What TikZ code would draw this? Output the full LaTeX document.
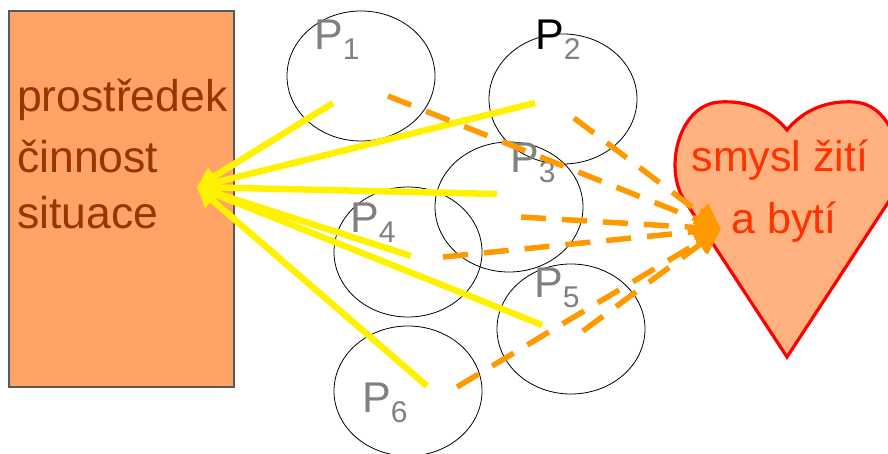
\documentclass[tikz,border=0pt]{standalone}
\usepackage{fontspec}
\setmainfont{Liberation Sans}
\usetikzlibrary{shapes.geometric,arrows.meta}
\definecolor{boxfill}{RGB}{255,163,102}
\definecolor{boxtext}{RGB}{153,51,0}
\definecolor{heartfill}{RGB}{255,178,128}
\definecolor{hearttext}{RGB}{255,51,0}
\definecolor{dashorange}{RGB}{255,153,0}
\definecolor{labgray}{RGB}{128,128,128}
\newcommand{\psub}[1]{\raisebox{-10pt}{\fontsize{30}{30}\selectfont #1}}

\begin{document}
\begin{tikzpicture}[x=1pt, y=-1pt, font=\fontsize{43}{50}\selectfont,
  part/.style={draw, ellipse, line width=0.8pt, minimum width=148pt, minimum height=130pt, inner sep=0pt},
  lab/.style={anchor=base west, inner sep=0pt, text=labgray},
  boxline/.style={anchor=base west, inner sep=0pt, text=boxtext, font=\fontsize{44.5}{50}\selectfont},
  heartline/.style={anchor=base, inner sep=0pt, text=hearttext},
  toward/.style={yellow, line width=6.5pt, -{Triangle[length=20pt,width=20pt]}},
  meaning/.style={dashorange, line width=5.5pt, dash pattern=on 25pt off 16pt, -{Triangle[length=26pt,width=24pt]}}]
  \useasboundingbox (0,0) rectangle (888,454);
  \clip (0,0) rectangle (888,454);
  % leva strana: prostredek, cinnost, situace
  \draw[fill=boxfill, draw=black!65, line width=1.3pt] (9,11) rectangle (234,387);
  \node[boxline] (t1) at (17,112) {prostředek};
  \node[boxline] (t2) at (17,173) {činnost};
  \node[boxline] (t3) at (17,229) {situace};
  % srdce vpravo
  \draw[fill=heartfill, draw=red, line width=3.2pt]
    (787,357) -- (683,198) .. controls (664,165) and (680,104) .. (720,102)
    .. controls (752,100) and (774,114) .. (787,130)
    .. controls (800,114) and (822,100) .. (854,102)
    .. controls (894,104) and (910,165) .. (891,198) -- cycle;
  \node[heartline] (h1) at (780,172) {smysl žití};
  \node[heartline] (h2) at (784,234) {a bytí};
  % kruhy P1..P6
  \node[part] (p1) at (361,76) {};
  \node[part] (p2) at (563,99) {};
  \node[part] (p3) at (509,207) {};
  \node[part] (p4) at (408,252) {};
  \node[part] (p5) at (571,329) {};
  \node[part] (p6) at (408,391) {};
  \node[lab] (l1) at (314,50) {P\psub{1}};
  \node[lab] (l2) at (535,50) {\textcolor{black}{P}\psub{2}};
  \node[lab] (l3) at (510,173) {P\psub{3}};
  \node[lab] (l4) at (350,233) {P\psub{4}};
  \node[lab] (l5) at (534,297) {P\psub{5}};
  \node[lab] (l6) at (362,412) {P\psub{6}};
  % cile sipek
  \coordinate (act) at (197,187);
  \coordinate (sense) at (721,229);
  \coordinate (y1) at (333,103);
  \coordinate (y2) at (535,103);
  \coordinate (y3) at (497,194);
  \coordinate (y4) at (411,256);
  \coordinate (y5) at (542,325);
  \coordinate (y6) at (427,386);
  \coordinate (o1) at (388,96);
  \coordinate (o2) at (574,118);
  \coordinate (o3) at (521,217);
  \coordinate (o4) at (443,257);
  \coordinate (o5) at (583,331);
  \coordinate (o6) at (457,387);
  \foreach \i in {1,...,6} {
    \draw[toward] (y\i) -- (act);
  }
  \foreach \i in {1,...,6} {
    \draw[meaning] (o\i) -- (sense);
  }
\end{tikzpicture}
\end{document}
